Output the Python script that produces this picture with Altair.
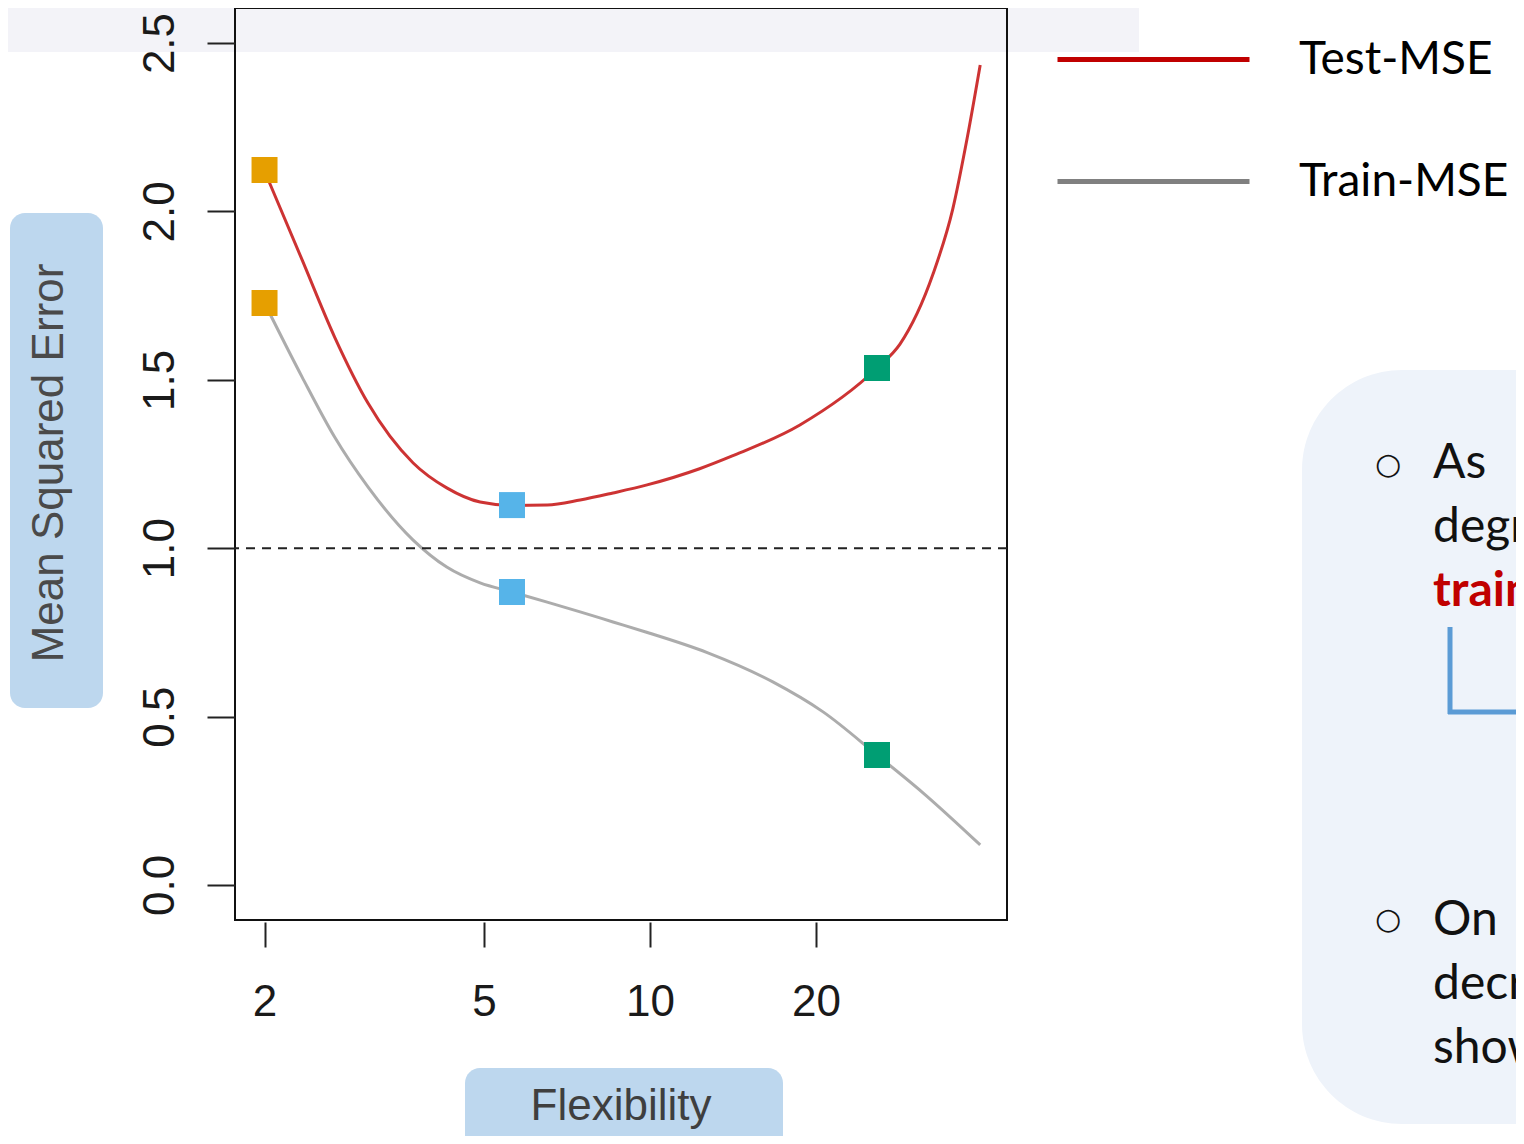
import altair as alt
import pandas as pd

# ---- data ----
test_x = [2.0, 2.34, 2.68, 3.08, 3.72, 4.28, 4.92, 5.62, 6.51, 7.47, 8.57, 9.88, 12.3, 14.1, 18.7, 25.8, 28.4, 32.6, 35.4, 37.6, 39.7]
test_y = [2.12, 1.856, 1.627, 1.431, 1.253, 1.179, 1.137, 1.127, 1.128, 1.143, 1.164, 1.188, 1.236, 1.274, 1.366, 1.535, 1.606, 1.814, 2.007, 2.218, 2.435]
train_x = [2.0, 2.34, 2.68, 3.08, 3.72, 4.28, 4.92, 5.62, 6.51, 7.47, 8.57, 9.79, 12.7, 16.7, 20.6, 25.8, 31.3, 39.7]
train_y = [1.728, 1.508, 1.330, 1.182, 1.024, 0.944, 0.897, 0.870, 0.840, 0.811, 0.781, 0.752, 0.690, 0.603, 0.514, 0.386, 0.273, 0.119]
series_names = ["Test-MSE", "Train-MSE"]
series_colors = ["#c00000", "#808080"]
marker_x = [2.0, 5.62, 25.8]
test_marker_y = [2.123, 1.128, 1.535]
train_marker_y = [1.728, 0.870, 0.386]
marker_levels = ["low", "medium", "high"]
marker_colors = ["#E69F00", "#56B4E9", "#009E73"]
x_ticks = [2, 5, 10, 20]
y_ticks = [0.0, 0.5, 1.0, 1.5, 2.0, 2.5]
reference_level = [1.0]
x_domain = [1.768, 44.4]
y_domain = [-0.104, 2.604]

lines_df = pd.DataFrame({
    "flex": test_x + train_x,
    "mse": test_y + train_y,
    "series": [series_names[0]] * len(test_x) + [series_names[1]] * len(train_x),
})
markers_df = pd.DataFrame({
    "flex": marker_x + marker_x,
    "mse": test_marker_y + train_marker_y,
    "level": marker_levels + marker_levels,
})
ref_df = pd.DataFrame({"level": reference_level})
one = pd.DataFrame({"d": [0]})

xscale = alt.Scale(type="log", domain=x_domain, nice=False, zero=False)
yscale = alt.Scale(domain=y_domain, nice=False, zero=False)

AX_FONT = "Liberation Sans"
x_axis = alt.Axis(values=x_ticks, format="d", title=None, tickSize=25, offset=2,
                  labelPadding=68, labelBaseline="alphabetic", labelFontSize=44,
                  labelFont=AX_FONT, labelColor="#1a1a1a", tickColor="#222222",
                  tickWidth=2, domain=False, grid=False, labelFlush=False, zindex=1)
y_axis = alt.Axis(values=y_ticks, format=".1f", title=None, tickSize=28,
                  labelPadding=34, labelAngle=270, labelAlign="center",
                  labelBaseline="alphabetic", labelFontSize=44, labelFont=AX_FONT,
                  labelColor="#1a1a1a", tickColor="#222222", tickWidth=2,
                  domain=False, grid=False, labelFlush=False, zindex=1)

color_scale = alt.Scale(domain=series_names, range=series_colors)
legend = alt.Legend(orient="none", legendX=820, legendY=-47, title=None,
                    direction="vertical", symbolType="stroke", symbolSize=36864,
                    symbolStrokeWidth=5, symbolOpacity=1, labelFont="Lato",
                    labelFontSize=46, labelColor="black", labelOffset=47,
                    rowPadding=-77, padding=0, labelLimit=0)

def rect(x, x2, y, y2, color, radius=0):
    return alt.Chart(one).mark_rect(color=color, cornerRadius=radius).encode(
        x=alt.value(x), x2=alt.value(x2), y=alt.value(y), y2=alt.value(y2))

def text(t, x, y, size, color="#111111", font="Lato", weight="normal",
         align="left", baseline="alphabetic", angle=0):
    kw = dict(text=t, font=font, fontSize=size, color=color, fontWeight=weight,
              align=align, baseline=baseline)
    if angle:
        kw["angle"] = angle
    return alt.Chart(one).mark_text(**kw).encode(x=alt.value(x), y=alt.value(y))

BAND = "#f3f3f8"
band_left = rect(-227, -1, 0, 44, BAND)
band_in = rect(1, 771, 1, 44, BAND)
band_right = rect(773, 904, 0, 44, BAND)
ybox = rect(-225, -132, 205, 700, "#bdd7ee", 15)
xbox = rect(230, 548, 1060, 1160, "#bdd7ee", 15)
panel = rect(1067, 1400, 362, 1116, "#eef3fa", 100)

base = alt.Chart(lines_df)
test_line = base.transform_filter(alt.datum.series == series_names[0]).mark_line(
    strokeWidth=3, opacity=0.8, interpolate="monotone").encode(
    x=alt.X("flex:Q", scale=xscale, axis=x_axis),
    y=alt.Y("mse:Q", scale=yscale, axis=y_axis),
    color=alt.Color("series:N", scale=color_scale, legend=legend))
train_line = base.transform_filter(alt.datum.series == series_names[1]).mark_line(
    strokeWidth=3, opacity=0.65, interpolate="monotone").encode(
    x=alt.X("flex:Q", scale=xscale, axis=x_axis),
    y=alt.Y("mse:Q", scale=yscale, axis=y_axis),
    color=alt.Color("series:N", scale=color_scale, legend=legend))

ref_rule = alt.Chart(ref_df).mark_rule(strokeDash=[9, 7], color="#222222", strokeWidth=2).encode(
    y=alt.Y("level:Q", scale=yscale))

markers = alt.Chart(markers_df).mark_point(shape="square", filled=True, size=676, opacity=1).encode(
    x=alt.X("flex:Q", scale=xscale),
    y=alt.Y("mse:Q", scale=yscale),
    fill=alt.Fill("level:N", scale=alt.Scale(domain=marker_levels, range=marker_colors), legend=None))

ytitle = text("Mean Squared Error", -185, 455, 44, color="#4a4a4a", font=AX_FONT,
              align="center", baseline="middle", angle=270)
xtitle = text("Flexibility", 386, 1099, 44, color="#3f3f3f", font=AX_FONT,
              align="center", baseline="middle")

panel_texts = [
    text("\u25cb", 1153, 457, 30, font="DejaVu Sans", align="center", baseline="middle"),
    text("As", 1198, 470, 48),
    text("degr", 1198, 534, 48),
    text("train", 1198, 598, 48, color="#c00000", weight="bold"),
    text("\u25cb", 1153, 912, 30, font="DejaVu Sans", align="center", baseline="middle"),
    text("On", 1198, 927, 48),
    text("decr", 1198, 991, 48),
    text("show", 1198, 1055, 48),
]
lshape_v = alt.Chart(one).mark_rule(color="#5b9bd5", strokeWidth=5).encode(
    x=alt.value(1215), y=alt.value(619), y2=alt.value(706))
lshape_h = alt.Chart(one).mark_rule(color="#5b9bd5", strokeWidth=5).encode(
    x=alt.value(1213), x2=alt.value(1300), y=alt.value(704))

chart = alt.layer(
    band_left, band_in, band_right, ybox, xbox, panel, train_line, test_line,
    ref_rule, markers, ytitle, xtitle, *panel_texts, lshape_v, lshape_h
).properties(
    width=772, height=912,
    autosize=alt.AutoSizeParams(type="none"),
    padding={"left": 227, "top": 0, "right": 509, "bottom": 216},
    background="white",
).configure_view(stroke="#111111", strokeWidth=2)

chart.save("out.html", embed_options={"renderer": "svg", "actions": False})
